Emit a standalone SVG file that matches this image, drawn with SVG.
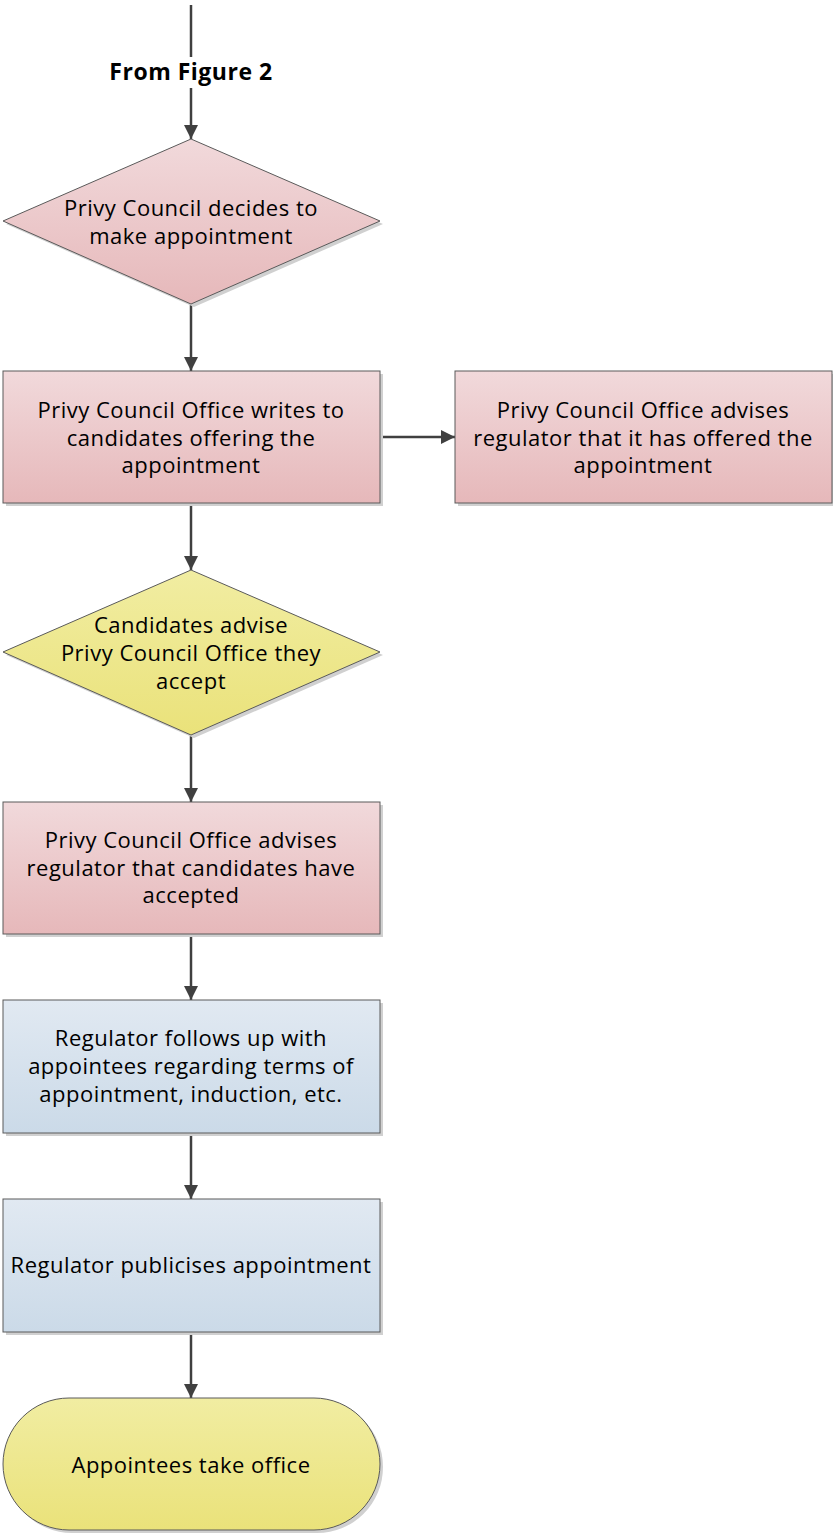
<svg xmlns="http://www.w3.org/2000/svg" width="833" height="1533" viewBox="0 0 833 1533">
<defs>
<linearGradient id="pink" x1="0" y1="0" x2="0" y2="1"><stop offset="0" stop-color="#f1d9db"/><stop offset="1" stop-color="#e6b8ba"/></linearGradient>
<linearGradient id="blue" x1="0" y1="0" x2="0" y2="1"><stop offset="0" stop-color="#e1e9f2"/><stop offset="1" stop-color="#cbdae8"/></linearGradient>
<linearGradient id="yellow" x1="0" y1="0" x2="0" y2="1"><stop offset="0" stop-color="#f1eda2"/><stop offset="1" stop-color="#eae27a"/></linearGradient>
<marker id="arr" markerWidth="14" markerHeight="14" refX="14" refY="7" orient="auto" markerUnits="userSpaceOnUse"><path d="M0,0 L14,7 L0,14 Z" fill="#404040"/></marker>
<style>
.shape{stroke:#5a5a5a;stroke-width:1}
.shadow{fill:#d0d0d0}
.t{font-family:"Open Sans","Liberation Sans",Arial,sans-serif;font-size:22px;letter-spacing:0.5px;fill:#000;text-anchor:middle}
.b{font-weight:bold;font-size:23px}
.c{stroke:#404040;stroke-width:2.5;fill:none}
</style>
</defs>
<g id="connectors">
<line class="c" x1="191" y1="5" x2="191" y2="57"/>
<line class="c" x1="191" y1="88" x2="191" y2="139" marker-end="url(#arr)"/>
<line class="c" x1="191" y1="304" x2="191" y2="371" marker-end="url(#arr)"/>
<line class="c" x1="380" y1="437" x2="455" y2="437" marker-end="url(#arr)"/>
<line class="c" x1="191" y1="503" x2="191" y2="570" marker-end="url(#arr)"/>
<line class="c" x1="191" y1="735" x2="191" y2="802" marker-end="url(#arr)"/>
<line class="c" x1="191" y1="934" x2="191" y2="1000" marker-end="url(#arr)"/>
<line class="c" x1="191" y1="1133" x2="191" y2="1199" marker-end="url(#arr)"/>
<line class="c" x1="191" y1="1332" x2="191" y2="1398" marker-end="url(#arr)"/>
</g>
<g id="label-from">
<text class="t b" x="191" y="80">From Figure 2</text>
</g>
<g id="n1">
<polygon class="shadow" points="194,142 383,224 194,307 6,224"/>
<polygon class="shape" fill="url(#pink)" points="191,139 380,221 191,304 3,221"/>
<text class="t" x="191" y="216">Privy Council decides to</text>
<text class="t" x="191" y="244">make appointment</text>
</g>
<g id="n2">
<rect class="shadow" x="6" y="374" width="377" height="132"/>
<rect class="shape" fill="url(#pink)" x="3" y="371" width="377" height="132"/>
<text class="t" x="191" y="418">Privy Council Office writes to</text>
<text class="t" x="191" y="446">candidates offering the</text>
<text class="t" x="191" y="473">appointment</text>
</g>
<g id="n3">
<rect class="shadow" x="458" y="374" width="375" height="132"/>
<rect class="shape" fill="url(#pink)" x="455" y="371" width="377" height="132"/>
<text class="t" x="643" y="418">Privy Council Office advises</text>
<text class="t" x="643" y="446">regulator that it has offered the</text>
<text class="t" x="643" y="473">appointment</text>
</g>
<g id="n4">
<polygon class="shadow" points="194,573 383,655 194,738 6,655"/>
<polygon class="shape" fill="url(#yellow)" points="191,570 380,652 191,735 3,652"/>
<text class="t" x="191" y="633">Candidates advise</text>
<text class="t" x="191" y="661">Privy Council Office they</text>
<text class="t" x="191" y="689">accept</text>
</g>
<g id="n5">
<rect class="shadow" x="6" y="805" width="377" height="132"/>
<rect class="shape" fill="url(#pink)" x="3" y="802" width="377" height="132"/>
<text class="t" x="191" y="848">Privy Council Office advises</text>
<text class="t" x="191" y="876">regulator that candidates have</text>
<text class="t" x="191" y="903">accepted</text>
</g>
<g id="n6">
<rect class="shadow" x="6" y="1003" width="377" height="133"/>
<rect class="shape" fill="url(#blue)" x="3" y="1000" width="377" height="133"/>
<text class="t" x="191" y="1046">Regulator follows up with</text>
<text class="t" x="191" y="1074">appointees regarding terms of</text>
<text class="t" x="191" y="1102">appointment, induction, etc.</text>
</g>
<g id="n7">
<rect class="shadow" x="6" y="1202" width="377" height="133"/>
<rect class="shape" fill="url(#blue)" x="3" y="1199" width="377" height="133"/>
<text class="t" x="191" y="1273">Regulator publicises appointment</text>
</g>
<g id="n8">
<rect class="shadow" x="6" y="1401" width="377" height="132" rx="66" ry="66"/>
<rect class="shape" fill="url(#yellow)" x="3" y="1398" width="377" height="132" rx="66" ry="66"/>
<text class="t" x="191" y="1473">Appointees take office</text>
</g>
</svg>
